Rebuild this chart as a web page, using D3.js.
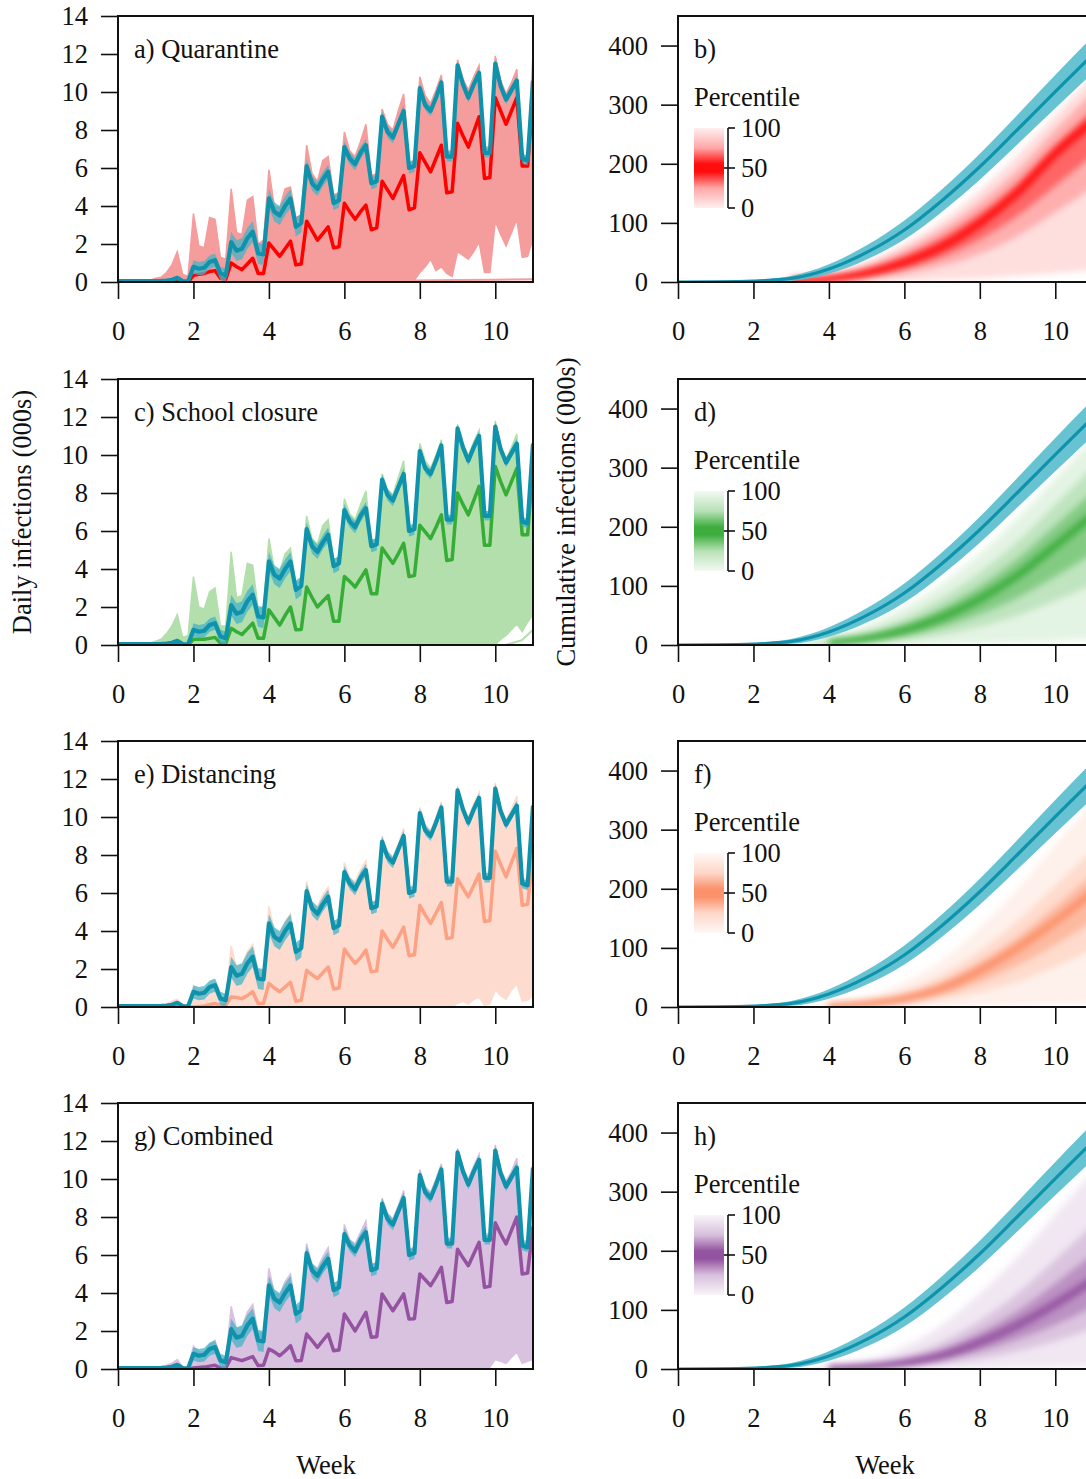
<!DOCTYPE html>
<head>
    <script src="https://d3js.org/d3.v7.min.js"></script>
    <style>
        body { margin: 0; background: #fff; }
        text { font-family: "Liberation Serif", "DejaVu Serif", serif; fill: #111; }
    </style>
</head>
<body>
    <svg></svg>
</body>

<script>
    // ---- data (daily values in thousands, day 0..77) ----
    var dayIndex = d3.range(78);
    var xTicks = [0, 2, 4, 6, 8, 10];
    var dailyTicks = [0, 2, 4, 6, 8, 10, 12, 14];
    var cumTicks = [0, 100, 200, 300, 400];
    var legendTicks = [100, 50, 0];

    // baseline (no intervention) median, teal
    var baseMed = [
        0.05,0.05,0.05,0.05,0.05,0.05,0.05,
        0.05,0.06,0.08,0.12,0.22,0.05,0.03,
        0.8,0.7,0.75,1.05,1.15,0.45,0.35,
        2.1,1.65,1.75,2.3,2.65,1.5,1.45,
        4.4,3.7,3.5,4.0,4.4,2.9,3.1,
        6.1,5.2,4.9,5.4,5.8,4.15,4.3,
        7.1,6.5,6.2,6.8,7.2,5.2,5.3,
        8.7,7.9,7.6,8.3,9.0,6.0,6.1,
        10.2,9.3,9.0,9.7,10.5,6.6,6.6,
        11.4,10.4,9.7,10.4,11.0,6.8,6.8,
        11.5,10.3,9.6,10.1,10.6,6.5,6.4,
        10.6];
    // half width of the baseline band, per week
    var baseSpread = [0.02, 0.05, 0.35, 0.55, 0.5, 0.38, 0.32, 0.3, 0.26, 0.25, 0.25, 0.25];

    // a) Quarantine
    var quarMed = [
        0,0,0,0,0,0,0,
        0,0,0,0,0.02,0,0,
        0.35,0.4,0.45,0.55,0.6,0.2,0.15,
        1.0,0.8,0.65,0.95,1.25,0.45,0.45,
        2.05,1.7,1.35,1.75,2.15,0.9,0.95,
        3.2,2.7,2.2,2.55,2.9,1.8,1.85,
        4.15,3.7,3.3,3.7,4.05,2.75,2.85,
        5.3,4.85,4.4,5.0,5.6,3.8,3.9,
        6.8,6.3,5.8,6.5,7.2,4.7,4.75,
        8.35,7.7,7.1,7.9,8.7,5.45,5.5,
        9.7,9.0,8.3,9.0,9.7,6.1,6.1,
        9.8];
    var quarEnv = [
        0.06,0.06,0.06,0.06,0.06,0.06,0.08,
        0.2,0.25,0.5,0.9,1.6,0.4,0.3,
        3.6,1.9,1.8,3.4,3.3,1.3,1.2,
        4.9,2.6,2.5,4.3,4.5,2.0,2.2,
        5.9,4.0,3.9,4.9,5.0,3.4,3.5,
        7.2,5.7,5.3,6.4,6.6,4.6,4.7,
        7.9,6.9,6.6,7.4,8.3,5.6,5.7,
        9.1,8.3,8.0,9.0,9.9,6.3,6.4,
        10.8,9.8,9.4,10.1,10.9,6.9,6.9,
        11.7,10.7,10.1,10.8,11.4,7.1,7.1,
        11.9,10.6,9.9,10.5,11.2,6.7,6.6,
        12.0];
    var quarLow = [
        0,0,0,0,0,0,0, 0,0,0,0,0,0,0, 0,0,0,0,0,0,0, 0,0,0,0,0,0,0,
        0,0,0,0,0,0,0, 0,0,0,0,0,0,0, 0,0,0,0,0,0,0, 0,0,0,0,0,0,0.1,
        0.5,0.8,1.2,0.6,0.8,0.45,0.3,
        1.6,1.4,1.2,1.6,2.1,0.5,0.5,
        3.2,2.5,1.9,2.6,3.3,1.3,1.35,
        2.3];
    // one run that never took off
    var quarStallWeeks = [7.8, 9, 10, 11];
    var quarStall = [0.08, 0.1, 0.12, 0.15];

    // c) School closure
    var schoolMed = [
        0,0,0,0,0,0,0,
        0,0,0,0,0.02,0,0,
        0.3,0.3,0.3,0.35,0.4,0.1,0.08,
        0.88,0.7,0.55,0.85,1.15,0.35,0.35,
        1.85,1.45,1.05,1.55,2.0,0.8,0.82,
        3.05,2.5,2.0,2.3,2.6,1.25,1.25,
        3.6,3.35,3.05,3.5,3.95,2.7,2.7,
        5.1,4.7,4.3,4.8,5.35,3.6,3.65,
        6.3,5.95,5.6,6.2,6.85,4.45,4.5,
        8.0,7.4,6.85,7.6,8.35,5.25,5.25,
        9.4,8.6,7.9,8.6,9.3,5.8,5.8,
        9.5];
    var schoolEnv = [
        0.06,0.06,0.06,0.06,0.06,0.06,0.1,
        0.2,0.3,0.6,1.0,1.6,0.4,0.5,
        3.6,2.0,1.9,2.8,3.0,1.0,1.0,
        4.9,2.5,2.6,4.3,4.2,1.9,2.0,
        5.6,4.0,3.9,4.8,5.1,3.3,3.4,
        6.8,5.6,5.3,6.3,6.6,4.5,4.6,
        7.7,6.9,6.6,7.4,8.1,5.5,5.6,
        9.0,8.2,7.9,8.8,9.7,6.2,6.3,
        10.6,9.7,9.3,10.0,10.8,6.8,6.8,
        11.6,10.6,10.0,10.7,11.3,7.0,7.0,
        11.8,10.5,9.8,10.4,11.1,6.6,6.6,
        11.0];
    var schoolLow = [
        0,0,0,0,0,0,0, 0,0,0,0,0,0,0, 0,0,0,0,0,0,0, 0,0,0,0,0,0,0,
        0,0,0,0,0,0,0, 0,0,0,0,0,0,0, 0,0,0,0,0,0,0, 0,0,0,0,0,0,0,
        0,0,0,0,0,0,0, 0,0,0,0,0,0,0,
        0,0.3,0.5,0.8,1.1,0.7,1.2,
        1.6];
    var schoolStallWeeks = [10.3, 10.7, 11];
    var schoolStall = [0.02, 0.25, 0.8];

    // e) Distancing
    var distMed = [
        0,0,0,0,0,0,0,
        0,0,0,0,0.01,0,0,
        0,0.02,0.05,0.12,0.18,0.1,0.1,
        0.53,0.5,0.44,0.6,0.8,0.18,0.2,
        1.25,1.0,0.8,1.05,1.3,0.3,0.35,
        1.93,1.7,1.5,1.8,2.1,0.95,1.0,
        3.05,2.65,2.3,2.6,3.0,1.85,1.9,
        4.0,3.55,3.15,3.65,4.2,2.7,2.75,
        5.35,4.85,4.4,4.95,5.5,3.6,3.65,
        6.75,6.25,5.8,6.4,7.0,4.5,4.55,
        8.2,7.5,6.85,7.6,8.35,5.35,5.4,
        8.0];
    var distEnv = [
        0.05,0.05,0.05,0.05,0.05,0.05,0.08,
        0.1,0.12,0.15,0.3,0.4,0.1,0.08,
        1.1,0.9,0.9,1.2,1.4,0.6,0.5,
        3.2,2.1,2.2,2.9,3.3,1.9,1.9,
        5.3,4.0,3.9,4.5,4.9,3.2,3.4,
        6.6,5.5,5.3,5.9,6.3,4.5,4.6,
        7.6,6.8,6.6,7.2,7.7,5.5,5.6,
        9.0,8.2,7.9,8.6,9.4,6.3,6.4,
        10.5,9.6,9.3,10.0,10.8,6.9,6.9,
        11.6,10.6,10.0,10.7,11.3,7.1,7.1,
        11.8,10.5,9.9,10.4,11.1,6.8,6.7,
        11.2];
    var distLow = [
        0,0,0,0,0,0,0, 0,0,0,0,0,0,0, 0,0,0,0,0,0,0, 0,0,0,0,0,0,0,
        0,0,0,0,0,0,0, 0,0,0,0,0,0,0, 0,0,0,0,0,0,0, 0,0,0,0,0,0,0,
        0,0,0,0,0,0,0,
        0.2,0.3,0.15,0.4,0.5,0.1,0.15,
        0.9,0.6,0.4,0.9,1.2,0.3,0.35,
        0.6];

    // g) Combined
    var combMed = [
        0,0,0,0,0,0,0,
        0,0,0,0,0.02,0,0,
        0.05,0.08,0.1,0.15,0.2,0.05,0.05,
        0.6,0.52,0.44,0.55,0.65,0.18,0.2,
        1.05,0.9,0.7,0.95,1.23,0.44,0.45,
        1.84,1.5,1.14,1.5,1.84,0.96,1.0,
        2.9,2.45,2.0,2.5,2.98,1.67,1.7,
        3.95,3.5,3.07,3.5,3.95,2.63,2.65,
        5.0,4.7,4.39,4.85,5.35,3.5,3.55,
        6.3,5.85,5.44,6.05,6.67,4.3,4.35,
        7.7,7.1,6.58,7.3,8.0,5.0,5.05,
        7.5];
    var combEnv = [
        0.05,0.05,0.05,0.05,0.05,0.05,0.08,
        0.1,0.12,0.2,0.3,0.5,0.1,0.08,
        1.2,0.9,0.9,1.3,1.5,0.6,0.5,
        3.3,2.1,2.2,3.0,3.4,1.9,1.9,
        5.3,4.0,3.9,4.6,5.0,3.2,3.4,
        6.6,5.5,5.3,5.9,6.4,4.5,4.6,
        7.6,6.8,6.6,7.2,7.8,5.5,5.6,
        9.0,8.2,7.9,8.6,9.4,6.3,6.4,
        10.5,9.6,9.3,10.0,10.8,6.9,6.9,
        11.6,10.6,10.0,10.7,11.3,7.1,7.1,
        11.8,10.5,9.9,10.4,11.1,6.8,6.7,
        11.2];
    var combLow = [
        0,0,0,0,0,0,0, 0,0,0,0,0,0,0, 0,0,0,0,0,0,0, 0,0,0,0,0,0,0,
        0,0,0,0,0,0,0, 0,0,0,0,0,0,0, 0,0,0,0,0,0,0, 0,0,0,0,0,0,0,
        0,0,0,0,0,0,0,
        0,0,0,0,0,0,0.1,
        0.5,0.4,0.3,0.6,0.9,0.3,0.4,
        0.5];

    // ---- cumulative (thousands), one value per week ----
    var cumWeeks = [0, 1, 2, 3, 4, 5, 6, 7, 8, 9, 10, 11];
    var baseCumMed = [0, 0.3, 1.5, 6, 22, 50, 88, 138, 195, 258, 322, 385];
    var baseCumSpread = [0, 0.3, 1.5, 4, 8, 12, 16, 19, 22, 25, 28, 31];

    // percentiles 0, 10, 25, 50, 75, 90, 100
    var quarCum = [
        [0,0,0,0,0,0,1,3,6,10,15,20],
        [0,0,0,0.2,1.5,5,13,27,48,78,118,160],
        [0,0,0,0.5,3,9,22,42,72,112,163,215],
        [0,0,0.1,1,5,15,33,60,100,152,218,272],
        [0,0,0.2,1.5,8,22,45,76,117,168,232,292],
        [0,0,0.3,2,10,28,55,90,135,190,258,322],
        [0,0,0.5,3,14,35,64,104,155,215,282,350]];
    var schoolCum = [
        [0,0,0,0,0,0,0.5,1,2,4,6,10],
        [0,0,0,0.1,1,3,8,17,31,50,75,102],
        [0,0,0,0.3,2,6,15,30,52,80,116,155],
        [0,0,0.1,0.6,4,11,25,47,78,118,168,220],
        [0,0,0.2,1,6,16,35,63,100,146,202,260],
        [0,0,0.3,1.5,8,22,46,80,123,175,238,302],
        [0,0,0.5,3,14,35,64,104,155,215,282,350]];
    var distCum = [
        [0,0,0,0,0,0,0.5,1,2,3,5,8],
        [0,0,0,0,0.3,1.5,5,12,25,43,68,97],
        [0,0,0,0.1,0.6,3,9,21,42,70,105,145],
        [0,0,0,0.2,1.2,5,14,32,62,100,145,195],
        [0,0,0,0.3,2,7,20,42,76,118,170,225],
        [0,0,0,0.5,3,10,27,55,95,145,205,265],
        [0,0,0,1,6,18,42,80,135,200,275,345]];
    var combCum = [
        [0,0,0,0,0,0,0.3,0.6,1,2,3,5],
        [0,0,0,0,0.2,1,3,8,17,30,47,68],
        [0,0,0,0.1,0.5,2,6,15,30,50,75,105],
        [0,0,0,0.2,1,3.5,10,23,45,74,110,150],
        [0,0,0,0.3,1.6,5.5,15,33,62,98,145,195],
        [0,0,0,0.4,2.5,8,22,46,82,128,185,245],
        [0,0,0,1,5,16,38,75,128,190,262,335]];

    var panels = [
        { left: 'a) Quarantine', right: 'b)', med: quarMed, env: quarEnv, low: quarLow, cum: quarCum,
          stallX: quarStallWeeks, stall: quarStall,
          line: '#ff0000', fill: '#f59c9c', shade: '#ff0000' },
        { left: 'c) School closure', right: 'd)', med: schoolMed, env: schoolEnv, low: schoolLow, cum: schoolCum,
          stallX: schoolStallWeeks, stall: schoolStall,
          line: '#36ad36', fill: '#b3dfac', shade: '#33aa33' },
        { left: 'e) Distancing', right: 'f)', med: distMed, env: distEnv, low: distLow, cum: distCum,
          line: '#fca184', fill: '#fddccf', shade: '#fb8c64' },
        { left: 'g) Combined', right: 'h)', med: combMed, env: combEnv, low: combLow, cum: combCum,
          line: '#9452a0', fill: '#d8c2df', shade: '#8e4a9b' }
    ];

    // ---- layout ----
    var width = 1086, height = 1479;
    var rowTop = [16, 379, 741, 1103];
    var plotH = 266;
    var fontSize = 26.5;
    var teal = '#0f93ac', tealBand = '#45b3c7';

    var svg = d3.select('svg').attr('width', width).attr('height', height);
    var defs = svg.append('defs');
    defs.append('filter').attr('id', 'soft')
        .attr('x', '-5%').attr('y', '-5%').attr('width', '110%').attr('height', '110%')
        .append('feGaussianBlur').attr('stdDeviation', 3);

    var xL = d3.scaleLinear().domain([0, 11]).range([118, 533]);
    var xR = d3.scaleLinear().domain([0, 11]).range([678, 1093]);

    function weekOf(i) { return dayIndex[i] / 7; }

    function styleAxis(g) {
        g.select('.domain').remove();
        g.selectAll('line').attr('stroke', '#111').attr('stroke-width', 1.6);
        g.selectAll('text').attr('font-size', fontSize)
            .attr('font-family', '"Liberation Serif", "DejaVu Serif", serif').attr('fill', '#111');
    }

    function frame(g, x, y, ticks, top) {
        g.append('g').attr('transform', 'translate(' + x.range()[0] + ',0)')
            .call(d3.axisLeft(y).tickValues(ticks).tickSize(17).tickPadding(13).tickSizeOuter(0))
            .call(styleAxis);
        g.append('g').attr('transform', 'translate(0,' + (top + plotH) + ')')
            .call(d3.axisBottom(x).tickValues(xTicks).tickSize(17).tickPadding(22).tickSizeOuter(0))
            .call(styleAxis);
        g.append('rect')
            .attr('x', x.range()[0]).attr('y', top)
            .attr('width', x.range()[1] - x.range()[0]).attr('height', plotH)
            .attr('fill', 'none').attr('stroke', '#111').attr('stroke-width', 2);
    }

    function clipFor(id, x, top) {
        defs.append('clipPath').attr('id', id).append('rect')
            .attr('x', x.range()[0]).attr('y', top)
            .attr('width', x.range()[1] - x.range()[0]).attr('height', plotH);
        return 'url(#' + id + ')';
    }

    // ---- daily panels ----
    panels.forEach(function (p, row) {
        var top = rowTop[row];
        var y = d3.scaleLinear().domain([0, 14]).range([top + plotH, top]);
        var g = svg.append('g');
        var plot = g.append('g').attr('clip-path', clipFor('cd' + row, xL, top));

        var simArea = d3.area()
            .x(function (d, i) { return xL(weekOf(i)); })
            .y0(function (d, i) { return y(p.low[i]); })
            .y1(function (d, i) { return y(p.env[i]); });
        plot.append('path').datum(p.env).attr('d', simArea)
            .attr('fill', p.fill).attr('stroke', p.fill).attr('stroke-width', 1.5);

        if (p.stall) {
            plot.append('path').datum(p.stall)
                .attr('d', d3.line()
                    .x(function (d, i) { return xL(p.stallX[i]); })
                    .y(function (d) { return y(d); }))
                .attr('fill', 'none').attr('stroke', p.fill).attr('stroke-width', 2);
        }

        var medLine = d3.line()
            .x(function (d, i) { return xL(weekOf(i)); })
            .y(function (d) { return y(d); });
        plot.append('path').datum(p.med).attr('d', medLine)
            .attr('fill', 'none').attr('stroke', p.line).attr('stroke-width', 3.5)
            .attr('stroke-linejoin', 'round');

        var band = d3.area()
            .x(function (d, i) { return xL(weekOf(i)); })
            .y0(function (d, i) { return y(Math.max(0, d - baseSpread[Math.floor(i / 7)])); })
            .y1(function (d, i) { return y(d + baseSpread[Math.floor(i / 7)]); });
        plot.append('path').datum(baseMed).attr('d', band)
            .attr('fill', tealBand).attr('fill-opacity', 0.75);
        plot.append('path').datum(baseMed).attr('d', medLine)
            .attr('fill', 'none').attr('stroke', teal).attr('stroke-width', 4.2)
            .attr('stroke-linejoin', 'round');

        frame(g, xL, y, dailyTicks, top);

        g.append('text').attr('x', 134).attr('y', top + 33).attr('dy', '0.35em')
            .attr('font-size', fontSize).text(p.left);
    });

    // ---- cumulative panels ----
    panels.forEach(function (p, row) {
        var top = rowTop[row];
        var y = d3.scaleLinear().domain([0, 450]).range([top + plotH, top]);
        var g = svg.append('g');
        var plot = g.append('g').attr('clip-path', clipFor('cc' + row, xR, top));
        var shade = plot.append('g').attr('filter', 'url(#soft)');

        function pctBand(lo, hi) {
            return d3.area().curve(d3.curveMonotoneX)
                .x(function (d, i) { return xR(cumWeeks[i]); })
                .y0(function (d, i) { return y(lo[i]); })
                .y1(function (d, i) { return y(hi[i]); })(lo);
        }
        var c = p.cum;
        shade.append('path').attr('d', pctBand(c[0], c[6])).attr('fill', p.shade).attr('fill-opacity', 0.13);
        shade.append('path').attr('d', pctBand(c[1], c[5])).attr('fill', p.shade).attr('fill-opacity', 0.22);
        shade.append('path').attr('d', pctBand(c[2], c[4])).attr('fill', p.shade).attr('fill-opacity', 0.42);

        // median drawn only once it leaves the axis
        var firstUp = c[3].findIndex(function (v) { return v >= 1; });
        var cumLine = d3.line().curve(d3.curveMonotoneX)
            .x(function (d, i) { return xR(cumWeeks[i]); })
            .y(function (d) { return y(d); });
        var medPart = d3.line().curve(d3.curveMonotoneX)
            .defined(function (d, i) { return i >= firstUp; })
            .x(function (d, i) { return xR(cumWeeks[i]); })
            .y(function (d) { return y(d); });
        shade.append('path').datum(c[3]).attr('d', medPart)
            .attr('fill', 'none').attr('stroke', p.shade).attr('stroke-width', 8).attr('stroke-opacity', 0.85);

        var band = d3.area().curve(d3.curveMonotoneX)
            .x(function (d, i) { return xR(cumWeeks[i]); })
            .y0(function (d, i) { return y(Math.max(0, d - baseCumSpread[i])); })
            .y1(function (d, i) { return y(d + baseCumSpread[i]); });
        plot.append('path').datum(baseCumMed).attr('d', band)
            .attr('fill', '#56bccd').attr('fill-opacity', 0.9);
        plot.append('path').datum(baseCumMed).attr('d', cumLine)
            .attr('fill', 'none').attr('stroke', teal).attr('stroke-width', 3.2);

        frame(g, xR, y, cumTicks, top);

        g.append('text').attr('x', 694).attr('y', top + 33).attr('dy', '0.35em')
            .attr('font-size', fontSize).text(p.right);
        g.append('text').attr('x', 694).attr('y', top + 81).attr('dy', '0.35em')
            .attr('font-size', fontSize).text('Percentile');

        // legend gradient
        var gid = 'lg' + row;
        var lg = defs.append('linearGradient').attr('id', gid)
            .attr('x1', 0).attr('y1', 0).attr('x2', 0).attr('y2', 1);
        [[0, 0.06], [0.25, 0.35], [0.45, 0.95], [0.55, 0.95], [0.75, 0.35], [1, 0.06]].forEach(function (s) {
            lg.append('stop').attr('offset', s[0]).attr('stop-color', p.shade).attr('stop-opacity', s[1]);
        });
        var ly = d3.scaleLinear().domain([0, 100]).range([top + 192, top + 112]);
        g.append('rect').attr('x', 694).attr('y', ly(100)).attr('width', 30)
            .attr('height', ly(0) - ly(100)).attr('fill', 'url(#' + gid + ')');
        g.append('line').attr('x1', 728).attr('x2', 728).attr('y1', ly(100)).attr('y2', ly(0))
            .attr('stroke', '#111').attr('stroke-width', 1.6);
        legendTicks.forEach(function (t) {
            g.append('line').attr('x1', t === 50 ? 724 : 728).attr('x2', 735)
                .attr('y1', ly(t)).attr('y2', ly(t)).attr('stroke', '#111').attr('stroke-width', 1.6);
            g.append('text').attr('x', 741).attr('y', ly(t)).attr('dy', '0.35em')
                .attr('font-size', fontSize).text(t);
        });
    });

    // ---- axis titles ----
    svg.append('text').attr('transform', 'translate(22,512) rotate(-90)')
        .attr('text-anchor', 'middle').attr('dy', '0.35em').attr('font-size', fontSize)
        .text('Daily infections (000s)');
    svg.append('text').attr('transform', 'translate(566,512) rotate(-90)')
        .attr('text-anchor', 'middle').attr('dy', '0.35em').attr('font-size', fontSize)
        .text('Cumulative infections (000s)');
    svg.append('text').attr('x', 326).attr('y', 1465).attr('dy', '0.35em')
        .attr('text-anchor', 'middle').attr('font-size', fontSize).text('Week');
    svg.append('text').attr('x', 885).attr('y', 1465).attr('dy', '0.35em')
        .attr('text-anchor', 'middle').attr('font-size', fontSize).text('Week');
</script>
